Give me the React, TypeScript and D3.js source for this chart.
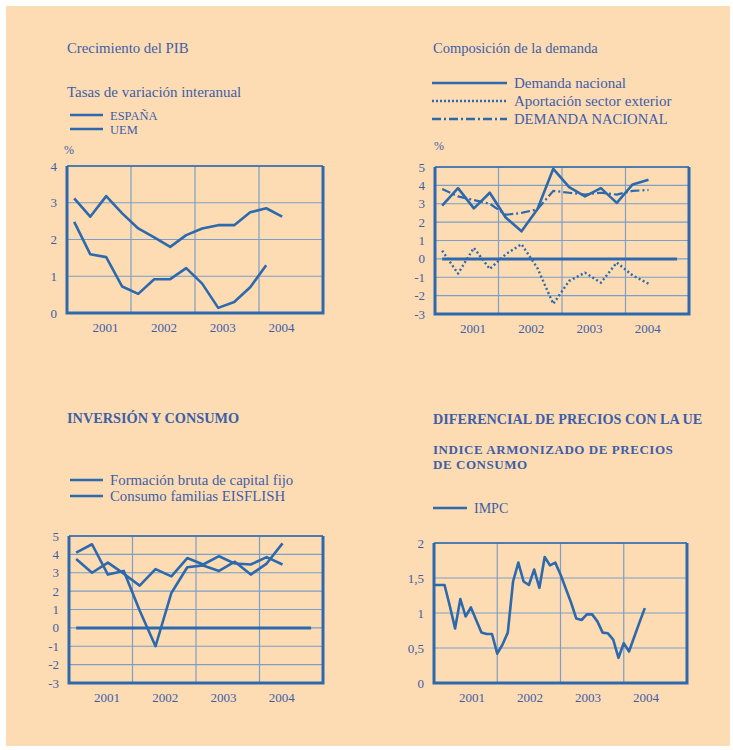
import React from "react";
import * as d3 from "d3";

// years shown under every panel
const years = ["2001", "2002", "2003", "2004"];

// Crecimiento del PIB (quarterly)
const pibEspana = [3.12, 2.62, 3.18, 2.71, 2.3, 2.06, 1.8, 2.12, 2.3, 2.39, 2.39, 2.74, 2.85, 2.62];
const pibUem = [2.48, 1.6, 1.52, 0.72, 0.52, 0.92, 0.92, 1.22, 0.8, 0.14, 0.3, 0.7, 1.3];

// Composición de la demanda (quarterly)
const demandaNacional = [2.9, 3.85, 2.75, 3.6, 2.25, 1.5, 2.7, 4.9, 3.9, 3.4, 3.85, 3.05, 4.05, 4.3];
const aportacionExterior = [0.45, -0.8, 0.6, -0.55, 0.25, 0.8, -0.5, -2.45, -1.2, -0.75, -1.3, -0.2, -0.9, -1.35];
const demandaNacionalUe = [3.8, 3.4, 3.2, 3.0, 2.4, 2.5, 2.7, 3.7, 3.6, 3.5, 3.6, 3.5, 3.7, 3.75];

// Inversión y consumo (quarterly)
const formacionCapital = [4.1, 4.55, 2.9, 3.1, 0.95, -1.0, 1.9, 3.3, 3.4, 3.1, 3.6, 2.9, 3.5, 4.6];
const consumoFamilias = [3.75, 3.0, 3.55, 2.95, 2.3, 3.2, 2.8, 3.8, 3.45, 3.9, 3.5, 3.45, 3.85, 3.45];

// Diferencial IMPC (monthly)
const impc = [
  1.4, 1.4, 1.4, 1.1, 0.78, 1.2, 0.95, 1.08, 0.9, 0.72, 0.7, 0.7, 0.42, 0.55,
  0.72, 1.45, 1.72, 1.45, 1.4, 1.62, 1.36, 1.8, 1.68, 1.72, 1.55, 1.35, 1.15,
  0.92, 0.9, 0.98, 0.98, 0.88, 0.72, 0.71, 0.62, 0.36, 0.57, 0.45, 0.66, 0.87, 1.07,
];

const ticksPct = [-3, -2, -1, 0, 1, 2, 3, 4, 5];
const ticksPib = [0, 1, 2, 3, 4];
const ticksImpc = [0, 0.5, 1, 1.5, 2];

const BG = "#fddcb4";
const LINE = "#2d69ad";
const GRID = "#7d9ec6";
const TEXT = "#3e5ea7";
const FONT = "'Liberation Serif', 'Times New Roman', serif";

type Series = {
  values: number[];
  monthly?: boolean;
  dash?: string;
  width?: number;
};

type PanelProps = {
  left: number;
  right: number;
  top: number;
  bottom: number;
  yDomain: [number, number];
  yTicks: number[];
  fmt: (v: number) => string;
  series: Series[];
  zero?: boolean;
};

const Panel = ({ left, right, top, bottom, yDomain, yTicks, fmt, series, zero }: PanelProps) => {
  const x = d3.scaleLinear().domain([0, 16]).range([left, right]);
  const y = d3.scaleLinear().domain(yDomain).range([bottom, top]);
  const yearX = d3.scalePoint<string>().domain(years).range([x(2.4), x(13.4)]);

  const pathFor = (s: Series) =>
    d3
      .line<number>()
      .x((_, i) => (s.monthly ? x(i / 3) : x(i + 0.45)))
      .y((d) => y(d))(s.values) || "";

  return (
    <g>
      {yTicks.map((t) => (
        <line key={"h" + t} x1={left} x2={right} y1={y(t)} y2={y(t)} stroke={GRID} strokeWidth={1.2} />
      ))}
      {[4, 8, 12].map((q) => (
        <line key={"v" + q} x1={x(q)} x2={x(q)} y1={top} y2={bottom} stroke={GRID} strokeWidth={1.2} />
      ))}
      <line x1={left} x2={right} y1={top} y2={top} stroke={LINE} strokeWidth={1.5} />
      <path
        d={`M${left},${top}V${bottom}H${right}V${top}`}
        fill="none"
        stroke={LINE}
        strokeWidth={3}
      />
      {zero && (
        <line x1={x(0.45)} x2={x(15.25)} y1={y(0)} y2={y(0)} stroke={LINE} strokeWidth={3} />
      )}
      {series.map((s, i) => (
        <path
          key={i}
          d={pathFor(s)}
          fill="none"
          stroke={LINE}
          strokeWidth={s.width ?? 2.6}
          strokeDasharray={s.dash}
          strokeLinejoin="round"
        />
      ))}
      {yTicks.map((t) => (
        <text key={"l" + t} x={left - 10} y={y(t) + 4.5} textAnchor="end" fontSize={13} fill={TEXT}>
          {fmt(t)}
        </text>
      ))}
      {years.map((yr) => (
        <text key={yr} x={yearX(yr)} y={bottom + 19} textAnchor="middle" fontSize={13} fill={TEXT}>
          {yr}
        </text>
      ))}
    </g>
  );
};

const Legend = ({
  x,
  y,
  len,
  label,
  dash,
  width = 2.6,
  size = 14.8,
}: {
  x: number;
  y: number;
  len: number;
  label: string;
  dash?: string;
  width?: number;
  size?: number;
}) => (
  <g>
    <line x1={x} x2={x + len} y1={y} y2={y} stroke={LINE} strokeWidth={width} strokeDasharray={dash} />
    <text x={x + len + 7} y={y + 4.5} fontSize={size} fill={TEXT}>
      {label}
    </text>
  </g>
);

const App = () => {
  const fmtInt = (v: number) => String(v);
  const fmtComma = (v: number) => String(v).replace(".", ",");

  return (
    <svg
      width={733}
      height={750}
      style={{ position: "absolute", left: 0, top: 0, fontFamily: FONT }}
    >
      <rect width={733} height={750} fill="#ffffff" />
      <rect x={6} y={6} width={724} height={740} fill={BG} />

      {/* Crecimiento del PIB */}
      <text x={67} y={53} fontSize={14.8} fill={TEXT}>Crecimiento del PIB</text>
      <text x={67} y={97} fontSize={15} fill={TEXT}>Tasas de variación interanual</text>
      <Legend x={70} y={115} len={33} label="ESPAÑA" size={12.5} />
      <Legend x={70} y={129} len={33} label="UEM" size={12.5} />
      <text x={64} y={154} fontSize={12} fill={TEXT}>%</text>
      <Panel
        left={67}
        right={323}
        top={166}
        bottom={313}
        yDomain={[0, 4]}
        yTicks={ticksPib}
        fmt={fmtInt}
        series={[{ values: pibEspana }, { values: pibUem }]}
      />

      {/* Composición de la demanda */}
      <text x={433} y={53} fontSize={14.5} fill={TEXT}>Composición de la demanda</text>
      <Legend x={432} y={83} len={75} label="Demanda nacional" size={15} />
      <Legend x={432} y={101} len={75} label="Aportación sector exterior" dash="2,2" width={2.4} size={15} />
      <Legend x={432} y={119} len={75} label="DEMANDA NACIONAL" dash="9,3,2,3" size={14.6} />
      <text x={434} y={150} fontSize={12} fill={TEXT}>%</text>
      <Panel
        left={435}
        right={689}
        top={167}
        bottom={314}
        yDomain={[-3, 5]}
        yTicks={ticksPct}
        fmt={fmtInt}
        zero
        series={[
          { values: demandaNacional },
          { values: aportacionExterior, dash: "2,2.5", width: 2.4 },
          { values: demandaNacionalUe, dash: "9,3,2,3", width: 2.2 },
        ]}
      />

      {/* Inversión y consumo */}
      <text x={67} y={423} fontSize={14.3} fontWeight="bold" fill={TEXT}>INVERSIÓN Y CONSUMO</text>
      <Legend x={70} y={480} len={33} label="Formación bruta de capital fijo" />
      <Legend x={70} y={496} len={33} label="Consumo familias EISFLISH" />
      <Panel
        left={69}
        right={323}
        top={536}
        bottom={683}
        yDomain={[-3, 5]}
        yTicks={ticksPct}
        fmt={fmtInt}
        zero
        series={[{ values: formacionCapital }, { values: consumoFamilias }]}
      />

      {/* Diferencial de precios */}
      <text x={433} y={424} fontSize={14.2} fontWeight="bold" fill={TEXT}>DIFERENCIAL DE PRECIOS CON LA UE</text>
      <text x={433} y={454} fontSize={13} letterSpacing={0.55} fontWeight="bold" fill={TEXT}>INDICE ARMONIZADO DE PRECIOS</text>
      <text x={433} y={469} fontSize={13} letterSpacing={0.55} fontWeight="bold" fill={TEXT}>DE CONSUMO</text>
      <Legend x={433} y={508} len={34} label="IMPC" size={14} />
      <Panel
        left={434}
        right={687}
        top={543}
        bottom={683}
        yDomain={[0, 2]}
        yTicks={ticksImpc}
        fmt={fmtComma}
        series={[{ values: impc, monthly: true }]}
      />
    </svg>
  );
};

export default App;
